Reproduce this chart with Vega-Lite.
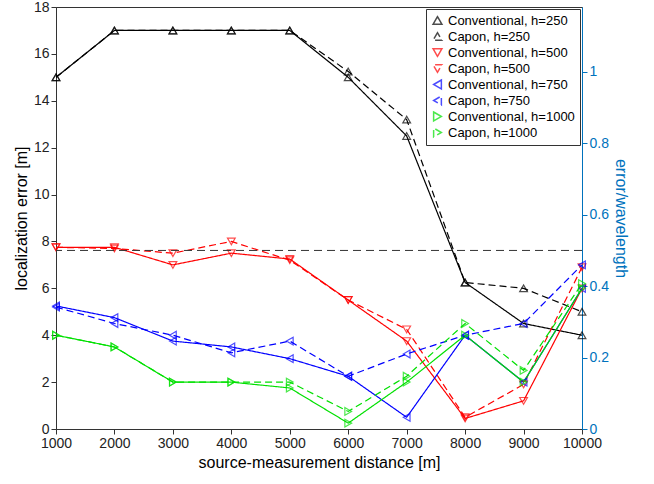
{
"$schema":"https://vega.github.io/schema/vega-lite/v6.json",
"width":526,"height":422,
"padding":{"left":13,"top":0,"right":5,"bottom":5},
"config":{"font":"Liberation Sans","view":{"stroke":"#333"},"axis":{"grid":false,"labelFontSize":14,"titleFontSize":16,"titleFontWeight":"normal","domainColor":"#333","tickColor":"#333","labelColor":"#222","titleColor":"#000","tickSize":5}},
"data":{"values":[
{"x":1000,"s":"Conventional, h=250","v":15},{"x":2000,"s":"Conventional, h=250","v":17},{"x":3000,"s":"Conventional, h=250","v":17},{"x":4000,"s":"Conventional, h=250","v":17},{"x":5000,"s":"Conventional, h=250","v":17},{"x":6000,"s":"Conventional, h=250","v":15},{"x":7000,"s":"Conventional, h=250","v":12.5},{"x":8000,"s":"Conventional, h=250","v":6.25},{"x":9000,"s":"Conventional, h=250","v":4.5},{"x":10000,"s":"Conventional, h=250","v":4},
{"x":1000,"s":"Capon, h=250","v":15},{"x":2000,"s":"Capon, h=250","v":17},{"x":3000,"s":"Capon, h=250","v":17},{"x":4000,"s":"Capon, h=250","v":17},{"x":5000,"s":"Capon, h=250","v":17},{"x":6000,"s":"Capon, h=250","v":15.25},{"x":7000,"s":"Capon, h=250","v":13.2},{"x":8000,"s":"Capon, h=250","v":6.25},{"x":9000,"s":"Capon, h=250","v":6},{"x":10000,"s":"Capon, h=250","v":5},
{"x":1000,"s":"Conventional, h=500","v":7.75},{"x":2000,"s":"Conventional, h=500","v":7.75},{"x":3000,"s":"Conventional, h=500","v":7},{"x":4000,"s":"Conventional, h=500","v":7.5},{"x":5000,"s":"Conventional, h=500","v":7.25},{"x":6000,"s":"Conventional, h=500","v":5.5},{"x":7000,"s":"Conventional, h=500","v":3.75},{"x":8000,"s":"Conventional, h=500","v":0.45},{"x":9000,"s":"Conventional, h=500","v":1.2},{"x":10000,"s":"Conventional, h=500","v":6},
{"x":1000,"s":"Capon, h=500","v":7.75},{"x":2000,"s":"Capon, h=500","v":7.7},{"x":3000,"s":"Capon, h=500","v":7.5},{"x":4000,"s":"Capon, h=500","v":8},{"x":5000,"s":"Capon, h=500","v":7.2},{"x":6000,"s":"Capon, h=500","v":5.5},{"x":7000,"s":"Capon, h=500","v":4.25},{"x":8000,"s":"Capon, h=500","v":0.5},{"x":9000,"s":"Capon, h=500","v":1.9},{"x":10000,"s":"Capon, h=500","v":6.9},
{"x":1000,"s":"Conventional, h=750","v":5.25},{"x":2000,"s":"Conventional, h=750","v":4.75},{"x":3000,"s":"Conventional, h=750","v":3.75},{"x":4000,"s":"Conventional, h=750","v":3.5},{"x":5000,"s":"Conventional, h=750","v":3},{"x":6000,"s":"Conventional, h=750","v":2.25},{"x":7000,"s":"Conventional, h=750","v":0.5},{"x":8000,"s":"Conventional, h=750","v":4},{"x":9000,"s":"Conventional, h=750","v":2},{"x":10000,"s":"Conventional, h=750","v":6},
{"x":1000,"s":"Capon, h=750","v":5.2},{"x":2000,"s":"Capon, h=750","v":4.5},{"x":3000,"s":"Capon, h=750","v":4},{"x":4000,"s":"Capon, h=750","v":3.25},{"x":5000,"s":"Capon, h=750","v":3.75},{"x":6000,"s":"Capon, h=750","v":2.25},{"x":7000,"s":"Capon, h=750","v":3.2},{"x":8000,"s":"Capon, h=750","v":4},{"x":9000,"s":"Capon, h=750","v":4.5},{"x":10000,"s":"Capon, h=750","v":7},
{"x":1000,"s":"Conventional, h=1000","v":4},{"x":2000,"s":"Conventional, h=1000","v":3.5},{"x":3000,"s":"Conventional, h=1000","v":2},{"x":4000,"s":"Conventional, h=1000","v":2},{"x":5000,"s":"Conventional, h=1000","v":1.75},{"x":6000,"s":"Conventional, h=1000","v":0.25},{"x":7000,"s":"Conventional, h=1000","v":2},{"x":8000,"s":"Conventional, h=1000","v":4},{"x":9000,"s":"Conventional, h=1000","v":2},{"x":10000,"s":"Conventional, h=1000","v":6},
{"x":1000,"s":"Capon, h=1000","v":4},{"x":2000,"s":"Capon, h=1000","v":3.5},{"x":3000,"s":"Capon, h=1000","v":2},{"x":4000,"s":"Capon, h=1000","v":2},{"x":5000,"s":"Capon, h=1000","v":2},{"x":6000,"s":"Capon, h=1000","v":0.75},{"x":7000,"s":"Capon, h=1000","v":2.25},{"x":8000,"s":"Capon, h=1000","v":4.5},{"x":9000,"s":"Capon, h=1000","v":2.5},{"x":10000,"s":"Capon, h=1000","v":6.2}
]},
"layer":[
{"layer":[
{"mark":{"type":"line","strokeWidth":1.2},
 "encoding":{"x":{"field":"x","type":"quantitative","scale":{"domain":[1000,10000],"nice":false},"axis":{"values":[1000,2000,3000,4000,5000,6000,7000,8000,9000,10000],"format":"d","title":"source-measurement distance [m]","labelFlush":false}},
 "y":{"field":"v","type":"quantitative","scale":{"domain":[0,18],"nice":false},"axis":{"values":[0,2,4,6,8,10,12,14,16,18],"title":"localization error [m]"}},
 "color":{"field":"s","type":"nominal","scale":{"domain":["Conventional, h=250","Capon, h=250","Conventional, h=500","Capon, h=500","Conventional, h=750","Capon, h=750","Conventional, h=1000","Capon, h=1000"],"range":["#000","#000","#ff0000","#ff0000","#0000ff","#0000ff","#00e000","#00e000"]},"legend":{"title":null,"orient":"top-right","offset":2,"labelFontSize":13,"labelColor":"#000","strokeColor":"#333","fillColor":"white","padding":5,"symbolSize":80,"rowPadding":1}},
 "strokeDash":{"field":"s","type":"nominal","scale":{"domain":["Conventional, h=250","Capon, h=250","Conventional, h=500","Capon, h=500","Conventional, h=750","Capon, h=750","Conventional, h=1000","Capon, h=1000"],"range":[[1,0],[7,4],[1,0],[7,4],[1,0],[7,4],[1,0],[7,4]]},"legend":null}}},
{"mark":{"type":"point","filled":false,"size":60,"strokeWidth":1.2},
 "encoding":{"x":{"field":"x","type":"quantitative"},"y":{"field":"v","type":"quantitative"},
 "color":{"field":"s","type":"nominal","legend":{"title":null,"orient":"top-right","offset":2,"labelFontSize":13,"labelColor":"#000","strokeColor":"#333","fillColor":"white","padding":5,"symbolSize":80,"rowPadding":1}},
 "shape":{"field":"s","type":"nominal","scale":{"domain":["Conventional, h=250","Capon, h=250","Conventional, h=500","Capon, h=500","Conventional, h=750","Capon, h=750","Conventional, h=1000","Capon, h=1000"],"range":["triangle-up","triangle-up","triangle-down","triangle-down","triangle-left","triangle-left","triangle-right","triangle-right"]},"legend":{"title":null}}}}
]},
{"data":{"values":[{"r":0.5}]},
 "mark":{"type":"rule","strokeDash":[8,5],"color":"#333","strokeWidth":1},
 "encoding":{"y":{"field":"r","type":"quantitative","scale":{"domain":[0,1.1817],"nice":false},"axis":{"orient":"right","values":[0,0.2,0.4,0.6,0.8,1],"labelExpr":"datum.value == 0 ? '0' : datum.value == 1 ? '1' : format(datum.value, '.1f')","title":"error/wavelength","titleColor":"#0072BD","labelColor":"#0072BD","domainColor":"#0072BD","tickColor":"#0072BD"}}}}
],
"resolve":{"scale":{"y":"independent"}}
}
